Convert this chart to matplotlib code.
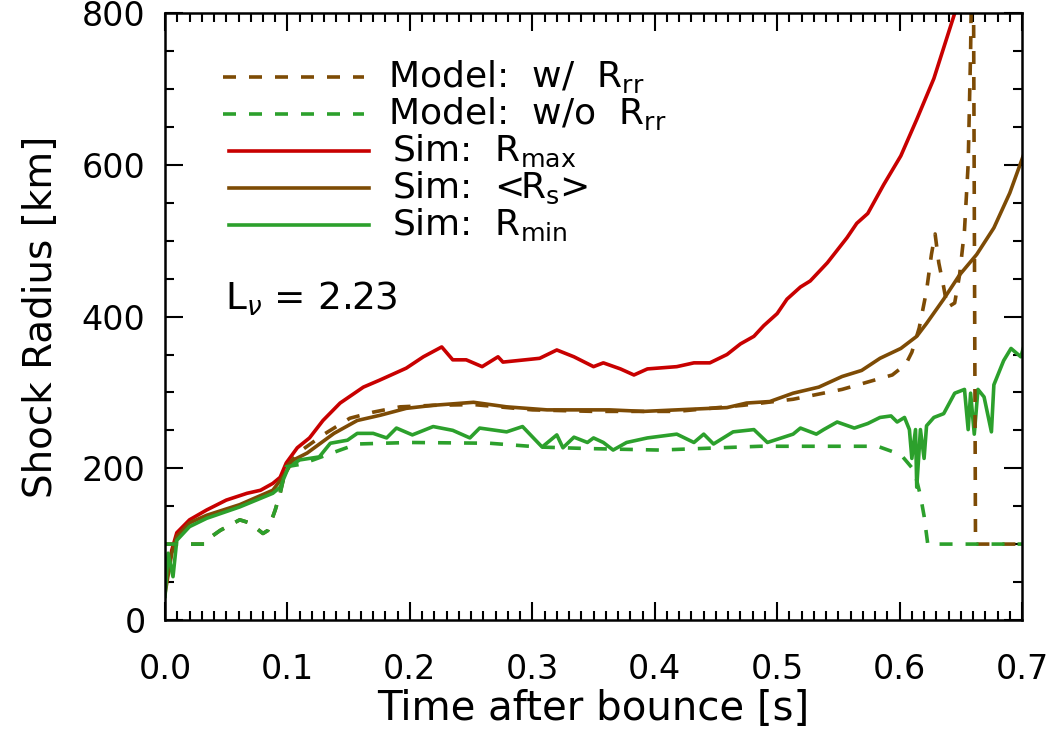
import matplotlib.pyplot as plt
from matplotlib.ticker import MultipleLocator

# Sim: R_max
t_max = [0.0, 0.0055, 0.0096, 0.020, 0.034, 0.050, 0.067, 0.078, 0.088, 0.094, 0.099, 0.108,
         0.118, 0.129, 0.143, 0.162, 0.175, 0.197, 0.211, 0.226, 0.235, 0.246, 0.259, 0.265,
         0.272, 0.276, 0.306, 0.320, 0.334, 0.350, 0.358, 0.372, 0.383, 0.394, 0.418, 0.432,
         0.445, 0.459, 0.470, 0.481, 0.489, 0.500, 0.508, 0.519, 0.527, 0.541, 0.557, 0.565,
         0.574, 0.587, 0.601, 0.614, 0.628, 0.645]
r_max = [40, 92, 115, 132, 145, 158, 167, 171, 180, 188, 207, 227,
         240, 263, 286, 307, 316, 332, 347, 360, 343, 343, 334, 340,
         347, 340, 345, 356, 347, 334, 339, 331, 323, 331, 334, 339,
         339, 350, 364, 374, 388, 404, 423, 439, 447, 471, 504, 523,
         536, 574, 612, 660, 714, 800]

# Sim: <R_s>
t_avg = [0.0, 0.0055, 0.0096, 0.020, 0.034, 0.061, 0.088, 0.096, 0.105, 0.116, 0.127, 0.138,
         0.157, 0.176, 0.197, 0.219, 0.252, 0.279, 0.312, 0.345, 0.363, 0.391, 0.418, 0.459,
         0.475, 0.494, 0.513, 0.534, 0.553, 0.569, 0.584, 0.601, 0.614, 0.622, 0.636, 0.649,
         0.663, 0.677, 0.690, 0.701]
r_avg = [35, 88, 110, 128, 138, 152, 171, 188, 211, 220, 233, 246,
         263, 270, 279, 283, 287, 281, 277, 277, 277, 275, 277, 280,
         286, 288, 299, 307, 321, 329, 345, 358, 374, 391, 423, 455,
         482, 517, 563, 612]

# Sim: R_min
t_min = [0.0, 0.0025, 0.0065, 0.0096, 0.020, 0.034, 0.061, 0.088, 0.094, 0.101, 0.110, 0.126,
         0.135, 0.149, 0.157, 0.170, 0.181, 0.189, 0.202, 0.219, 0.235, 0.249, 0.257, 0.279,
         0.292, 0.308, 0.320, 0.325, 0.334, 0.345, 0.350, 0.358, 0.366, 0.377, 0.394, 0.418,
         0.432, 0.440, 0.448, 0.464, 0.481, 0.492, 0.513, 0.519, 0.532, 0.538, 0.549, 0.563,
         0.574, 0.584, 0.593, 0.598, 0.604, 0.608, 0.610, 0.613, 0.614, 0.617, 0.620, 0.622,
         0.628, 0.636, 0.645, 0.653, 0.656, 0.658, 0.661, 0.664, 0.669, 0.675, 0.677, 0.685,
         0.691, 0.699, 0.701]
r_min = [31, 88, 57, 105, 123, 134, 149, 167, 175, 202, 211, 215,
         233, 237, 246, 246, 240, 253, 244, 255, 250, 240, 253, 248,
         255, 228, 244, 227, 241, 234, 240, 234, 224, 234, 240, 245,
         234, 245, 232, 248, 251, 234, 245, 253, 245, 251, 261, 253,
         259, 267, 269, 261, 267, 251, 213, 251, 175, 251, 213, 256,
         267, 272, 299, 304, 251, 299, 245, 304, 294, 248, 310, 342,
         358, 347, 358]

# Model: w/ R_rr
t_w = [0.0, 0.033, 0.038, 0.045, 0.061, 0.069, 0.080, 0.084, 0.090, 0.094, 0.099, 0.110,
       0.130, 0.151, 0.170, 0.192, 0.219, 0.252, 0.300, 0.350, 0.418, 0.472, 0.513, 0.553,
       0.594, 0.605, 0.610, 0.616, 0.622, 0.626, 0.629, 0.632, 0.636, 0.639, 0.645, 0.649,
       0.653, 0.656, 0.658, 0.660, 0.662, 0.680, 0.700]
r_w = [100, 100, 110, 118, 132, 128, 114, 118, 145, 167, 202, 222,
       245, 266, 274, 281, 283, 284, 277, 275, 275, 283, 291, 304,
       323, 337, 353, 385, 434, 482, 509, 471, 439, 412, 418, 455,
       514, 601, 750, 1000, 100, 100, 100]

# Model: w/o R_rr
t_wo = [0.0, 0.033, 0.038, 0.045, 0.061, 0.069, 0.080, 0.084, 0.090, 0.094, 0.099, 0.110,
        0.121, 0.143, 0.157, 0.200, 0.265, 0.306, 0.345, 0.404, 0.486, 0.541, 0.582, 0.601,
        0.612, 0.617, 0.620, 0.623, 0.650, 0.700]
r_wo = [100, 100, 110, 118, 132, 128, 114, 118, 145, 167, 202, 205,
        211, 224, 232, 234, 233, 228, 226, 224, 229, 229, 229, 218,
        197, 164, 137, 100, 100, 100]

red = "#c80000"
brown = "#7d4b05"
green = "#2ca02c"

plt.rcParams["font.family"] = "DejaVu Sans"
plt.rcParams["mathtext.fontset"] = "dejavusans"

fig = plt.figure(figsize=(10.58, 7.38), dpi=100)
ax = fig.add_axes([0.156, 0.160, 0.810, 0.822])

lw = 2.6
ax.plot(t_max, r_max, color=red, lw=lw)
ax.plot(t_avg, r_avg, color=brown, lw=lw)
ax.plot(t_min, r_min, color=green, lw=lw)
ax.plot(t_w, r_w, color=brown, lw=lw, dashes=(3.6, 3.6))
ax.plot(t_wo, r_wo, color=green, lw=lw, dashes=(3.6, 3.6))

ax.set_xlim(0, 0.7)
ax.set_ylim(0, 800)
ax.xaxis.set_major_locator(MultipleLocator(0.1))
ax.xaxis.set_minor_locator(MultipleLocator(0.01))
ax.yaxis.set_major_locator(MultipleLocator(200))
ax.yaxis.set_minor_locator(MultipleLocator(50))
ax.xaxis.set_major_formatter(plt.FormatStrFormatter("%.1f"))
ax.tick_params(which="both", direction="in", top=True, right=True, width=1.5,
               labelsize=24)
ax.tick_params(axis="x", pad=24)
ax.tick_params(axis="y", pad=14)
ax.tick_params(which="major", length=13)
ax.tick_params(which="minor", length=6.5)
for s in ax.spines.values():
    s.set_linewidth(1.8)

ax.set_xlabel("Time after bounce [s]", fontsize=29, labelpad=2)
ax.set_ylabel("Shock Radius [km]", fontsize=28, labelpad=16)

# Manual legend (IDL style)
legend_items = [
    (brown, (3.6, 3.6), r"Model:  w/  R$_{\rm rr}$", 0.068, 0.232, 0.260),
    (green, (3.6, 3.6), r"Model:  w/o  R$_{\rm rr}$", 0.068, 0.232, 0.260),
    (red, None, r"Sim:  R$_{\rm max}$", 0.075, 0.238, 0.265),
    (brown, None, r"Sim:  <R$_{\rm s}$>", 0.075, 0.238, 0.265),
    (green, None, r"Sim:  R$_{\rm min}$", 0.075, 0.238, 0.265),
]
y0 = 0.895
dy = 0.061
for i, (c, d, label, x0, x1, xt) in enumerate(legend_items):
    y = y0 - i * dy
    kw = dict(color=c, lw=lw, transform=ax.transAxes, clip_on=False)
    if d is not None:
        kw["dashes"] = d
    ax.plot([x0, x1], [y, y], **kw)
    ax.text(xt, y, label, transform=ax.transAxes, fontsize=26, va="center", ha="left")

ax.text(0.070, 0.53, r"L$_{\nu}$ = 2.23", transform=ax.transAxes, fontsize=27,
        va="center", ha="left")

plt.savefig("out.png", dpi=100)
